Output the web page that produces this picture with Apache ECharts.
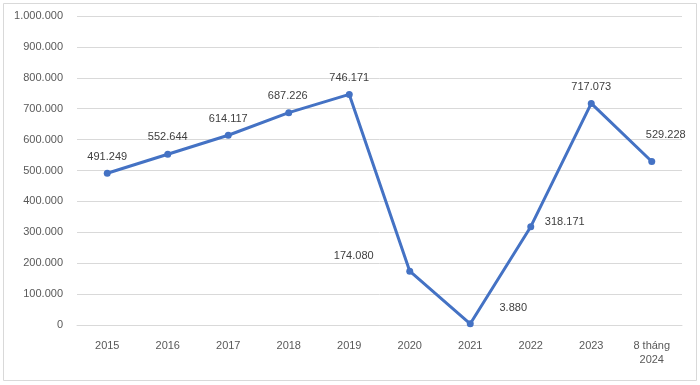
<!DOCTYPE html>
<html>
<head>
<meta charset="utf-8">
<script src="https://cdn.jsdelivr.net/npm/echarts@6/dist/echarts.min.js"></script>
<style>
html,body{margin:0;padding:0;background:#fff;}
#chart{width:700px;height:385px;}
</style>
</head>
<body>
<div id="chart"></div>
<script>
const categories = ['2015','2016','2017','2018','2019','2020','2021','2022','2023','8 tháng\n2024'];
const values = [491249, 552644, 614117, 687226, 746171, 174080, 3880, 318171, 717073, 529228];
const yMin = 0, yMax = 1000000, yInterval = 100000;
const labelOffsets = [[0,-16],[0,-17],[0,-16],[-1,-17],[0,-16],[-56,-15],[43,-16],[34,-5],[0,-16],[14,-26]];

function fmt(v){ return String(v).replace(/\B(?=(\d{3})+(?!\d))/g, '.'); }

const chart = echarts.init(document.getElementById('chart'), null, {renderer:'canvas'});
const FONT = '"Liberation Sans", Arial, sans-serif';
chart.setOption({
  animation:false,
  backgroundColor:'#fff',
  graphic:[{type:'rect', shape:{x:3.5,y:3.5,width:693,height:377}, style:{fill:'none', stroke:'#d9d9d9', lineWidth:1}, silent:true}],
  grid:{left:77, right:18, top:16, bottom:60, containLabel:false},
  xAxis:{
    type:'category', data:categories, boundaryGap:true,
    axisLine:{show:true, lineStyle:{color:'#d9d9d9'}},
    axisTick:{show:false},
    axisLabel:{color:'#595959', fontSize:11, fontFamily:FONT, margin:14, lineHeight:14, interval:0}
  },
  yAxis:{
    type:'value', min:yMin, max:yMax, interval:yInterval,
    axisLine:{show:false}, axisTick:{show:false},
    splitLine:{lineStyle:{color:'#d9d9d9', width:1}},
    axisLabel:{color:'#595959', fontSize:11, fontFamily:FONT, margin:14, formatter:v=>fmt(v)}
  },
  series:[{
    type:'line',
    data:values.map((v,i)=>({value:v, label:{offset:labelOffsets[i]}})),
    symbol:'circle', symbolSize:7,
    lineStyle:{color:'#4472C4', width:3},
    itemStyle:{color:'#4472C4'},
    label:{show:true, position:'inside', color:'#404040', fontSize:11, fontFamily:FONT, formatter:p=>fmt(p.value)}
  }]
});
</script>
</body>
</html>
